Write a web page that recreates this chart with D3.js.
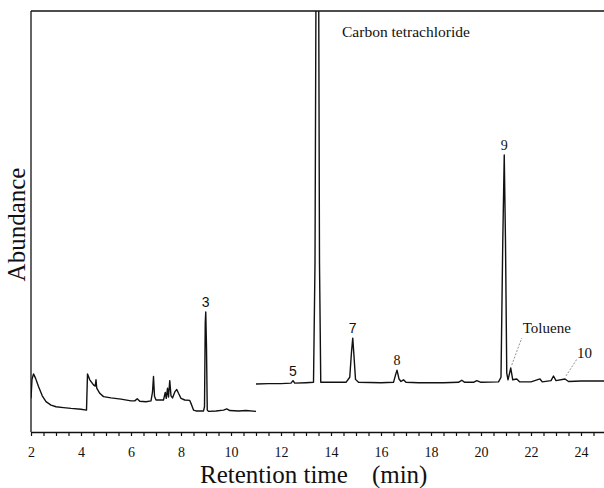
<!DOCTYPE html>
<html>
<head>
<meta charset="utf-8">
<script src="https://cdn.jsdelivr.net/npm/d3@7"></script>
<style>
  body { margin: 0; background: white; }
  svg { display: block; }
</style>
</head>
<body>
<svg id="chart" width="604" height="488"></svg>
<script>
// early segment of the chromatogram (2 - 11 min), [time, abundance]
const earlyTrace = [
  [2.0, 8.0], [2.04, 12.5], [2.1, 13.8], [2.18, 12.8], [2.3, 10.8], [2.45, 8.6], [2.6, 7.2],
  [2.8, 6.4], [3.0, 6.0], [3.3, 5.8], [3.6, 5.6], [4.0, 5.4], [4.22, 5.2], [4.26, 13.8],
  [4.35, 12.4], [4.5, 11.2], [4.57, 10.9], [4.6, 12.4], [4.63, 10.4], [4.75, 9.2], [4.9, 8.4],
  [5.2, 8.1], [5.6, 7.8], [6.0, 7.4], [6.15, 7.4], [6.25, 7.9], [6.35, 7.3], [6.6, 7.2],
  [6.8, 7.4], [6.86, 9.5], [6.9, 13.2], [6.94, 8.5], [7.0, 7.6], [7.3, 7.6], [7.37, 9.4],
  [7.41, 8.0], [7.46, 10.4], [7.5, 8.3], [7.55, 12.2], [7.6, 8.6], [7.66, 8.1], [7.76, 9.6],
  [7.83, 10.1], [7.9, 9.2], [8.0, 8.0], [8.15, 7.6], [8.35, 7.5], [8.42, 6.5], [8.5, 5.2],
  [8.6, 5.0], [8.9, 5.0], [8.94, 6.0], [8.97, 26.0], [8.99, 28.5], [9.02, 20.0], [9.05, 5.2],
  [9.1, 4.9], [9.4, 5.0], [9.7, 5.2], [9.83, 5.5], [9.95, 5.1], [10.3, 5.0], [10.6, 5.1], [11.0, 4.9]
];

// late segment (11 - 25 min)
const lateTrace = [
  [11.0, 11.4], [11.5, 11.5], [12.0, 11.5], [12.4, 11.6], [12.48, 12.2], [12.55, 11.6],
  [13.0, 11.7], [13.3, 11.8], [13.36, 40], [13.42, 140], [13.49, 140], [13.54, 40],
  [13.59, 11.8], [14.0, 11.8], [14.6, 11.8], [14.75, 13], [14.82, 19], [14.87, 22.3],
  [14.92, 18], [14.98, 12.5], [15.1, 11.8], [16.0, 11.7], [16.5, 11.8], [16.58, 13.5],
  [16.64, 14.7], [16.72, 12.6], [16.8, 12.0], [16.9, 12.4], [17.0, 11.8], [17.5, 11.7],
  [18.0, 11.7], [18.5, 11.7], [19.1, 11.8], [19.23, 12.3], [19.35, 11.8], [19.7, 11.8],
  [19.83, 12.2], [20.0, 11.8], [20.7, 11.9], [20.8, 13], [20.87, 45], [20.93, 65.8], [20.98, 45],
  [21.03, 14], [21.08, 12.4], [21.19, 15.2], [21.27, 12.4], [21.43, 12.6], [21.55, 11.9],
  [22.0, 11.9], [22.36, 12.6], [22.45, 11.9], [22.8, 12.2], [22.9, 13.3], [23.0, 12.2],
  [23.36, 12.6], [23.5, 12.0], [24.0, 12.1], [24.5, 12.1], [25.0, 12.1]
];

// numbered peaks: [label, time, abundance]
const peakLabels = [
  ['3', 8.99, 28.5], ['5', 12.48, 12.2], ['7', 14.87, 22.3], ['8', 16.64, 14.7], ['9', 20.93, 65.8]
];
// labels with leader lines: [label, time, abundance]
const calloutLabels = [['Toluene', 21.19, 15.2], ['10', 23.36, 12.6]];

const xTicks = [2, 4, 6, 8, 10, 12, 14, 16, 18, 20, 22, 24];
const xTitle = 'Retention time';
const xUnit = '(min)';
const yTitle = 'Abundance';
const soluteName = 'Carbon tetrachloride';

const width = 604, height = 488;
const margin = { top: 11, left: 31, bottom: 56 };
const serif = '"Liberation Serif", "Times New Roman", serif';

const svg = d3.select('#chart');

const x = d3.scaleLinear().domain([2, 25]).range([margin.left, 606]);
const y = d3.scaleLinear().domain([0, 100]).range([height - margin.bottom, margin.top]);

svg.append('clipPath').attr('id', 'plot-clip')
  .append('rect')
  .attr('x', margin.left).attr('y', margin.top)
  .attr('width', width - margin.left).attr('height', y(0) - margin.top);

const line = d3.line().x(d => x(d[0])).y(d => y(d[1]));

const traces = svg.append('g').attr('clip-path', 'url(#plot-clip)');
[earlyTrace, lateTrace].forEach(trace => {
  traces.append('path')
    .datum(trace)
    .attr('d', line)
    .attr('fill', 'none')
    .attr('stroke', '#111')
    .attr('stroke-width', 1.4)
    .attr('stroke-linejoin', 'round');
});

// x-axis, minor ticks every 0.5 min
const xAxis = svg.append('g')
  .attr('transform', `translate(0,${y(0)})`)
  .call(d3.axisBottom(x)
    .tickValues(d3.range(2, 25.01, 0.5))
    .tickSize(4)
    .tickSizeOuter(0)
    .tickFormat(d => xTicks.includes(d) ? d : ''))
  .attr('font-family', serif);
xAxis.select('.domain').attr('stroke', '#111').attr('stroke-width', 1.3);
xAxis.selectAll('line').attr('stroke', '#111').attr('stroke-width', 1.2);
xAxis.selectAll('text')
  .attr('dy', '1.25em')
  .style('font-family', serif)
  .style('font-size', '14px')
  .style('fill', '#111');

// left and top frame
svg.append('line')
  .attr('x1', margin.left).attr('x2', margin.left)
  .attr('y1', margin.top).attr('y2', y(0))
  .attr('stroke', '#111').attr('stroke-width', 1.3);
svg.append('line')
  .attr('x1', margin.left).attr('x2', width)
  .attr('y1', margin.top).attr('y2', margin.top)
  .attr('stroke', '#111').attr('stroke-width', 1.3);

// axis titles
svg.append('text')
  .attr('x', 200).attr('y', 483)
  .style('font-family', serif)
  .style('font-size', '25px')
  .style('fill', '#111')
  .text(xTitle)
  .append('tspan')
  .attr('dx', 24)
  .text(xUnit);

svg.append('text')
  .attr('transform', `translate(25,${(y(0) + margin.top) / 2 + 3}) rotate(-90)`)
  .attr('text-anchor', 'middle')
  .style('font-family', serif)
  .style('font-size', '25px')
  .style('fill', '#111')
  .text(yTitle);

svg.append('text')
  .attr('x', 342).attr('y', 37)
  .style('font-family', serif)
  .style('font-size', '15.5px')
  .style('fill', '#111')
  .text(soluteName);

// peak numbers
svg.append('g')
  .selectAll('text')
  .data(peakLabels)
  .enter().append('text')
  .attr('x', d => x(d[1]))
  .attr('y', d => y(d[2]) - 5)
  .attr('text-anchor', 'middle')
  .style('font-family', d => ['3', '5', '7'].includes(d[0]) ? '"Liberation Sans", Arial, sans-serif' : serif)
  .style('font-size', '14px')
  .style('fill', '#111')
  .text(d => d[0]);

// callouts with thin leader lines; label offsets from the peak
const calloutOffset = { 'Toluene': { x: 12, y: -35, lx: 11, ly: -30 }, '10': { x: 12, y: -21, lx: 12, ly: -20 } };
const callouts = svg.append('g')
  .selectAll('g')
  .data(calloutLabels)
  .enter().append('g');
callouts.append('line')
  .attr('x1', d => x(d[1]) + 1).attr('y1', d => y(d[2]) - 3)
  .attr('x2', d => x(d[1]) + calloutOffset[d[0]].lx).attr('y2', d => y(d[2]) + calloutOffset[d[0]].ly)
  .attr('stroke', '#777').attr('stroke-width', 0.8)
  .attr('stroke-dasharray', '2,1.5');
callouts.append('text')
  .attr('x', d => x(d[1]) + calloutOffset[d[0]].x)
  .attr('y', d => y(d[2]) + calloutOffset[d[0]].y)
  .style('font-family', serif)
  .style('font-size', '15px')
  .style('fill', '#111')
  .text(d => d[0]);
</script>
</body>
</html>
